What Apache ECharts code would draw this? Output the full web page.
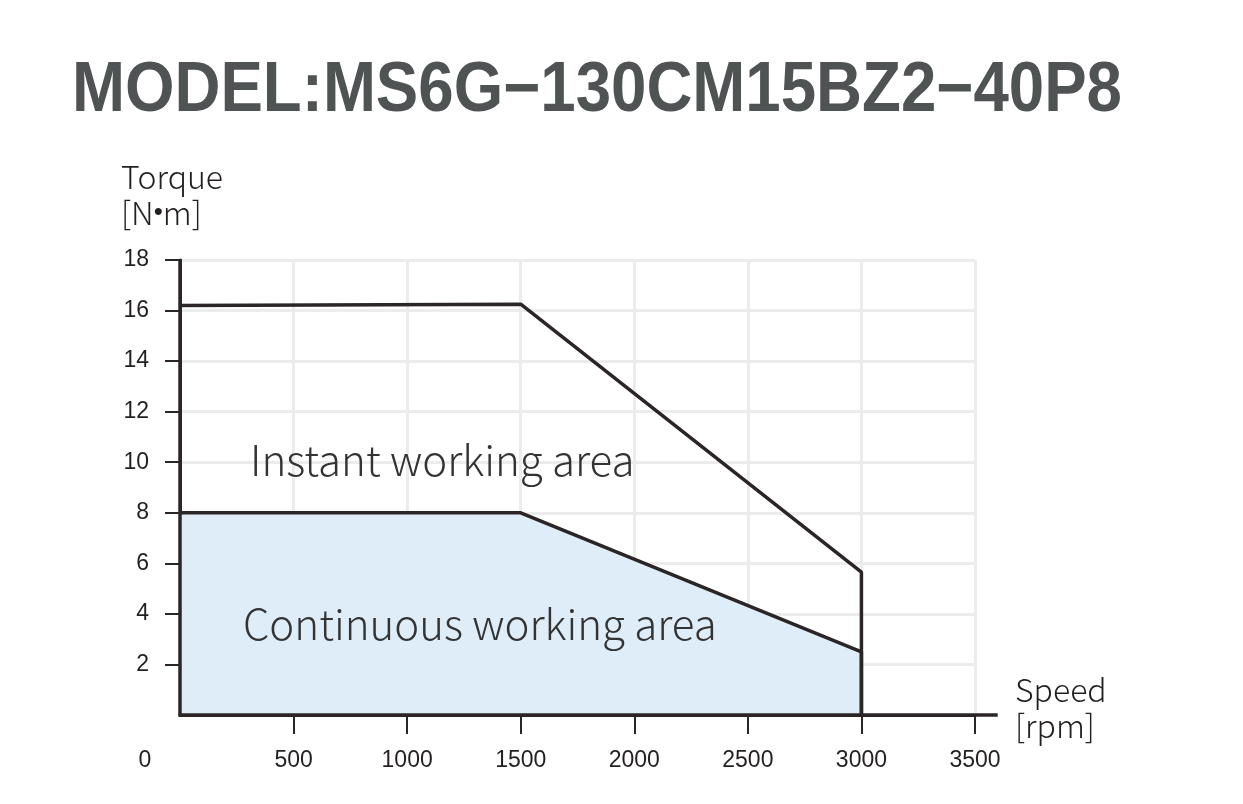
<!DOCTYPE html>
<html><head><meta charset="utf-8">
<script src="https://cdn.jsdelivr.net/npm/echarts@6/dist/echarts.min.js"></script>
<style>html,body{margin:0;padding:0;background:#fff}#c{width:1243px;height:804px}</style>
</head><body><div id="c"></div>
<script>
const titleText = 'MODEL:MS6G\u2212130CM15BZ2\u221240P8';
const xTicks = [0, 500, 1000, 1500, 2000, 2500, 3000, 3500];
const yTicks = [0, 2, 4, 6, 8, 10, 12, 14, 16, 18];
const instantSpeed = [0, 1500, 3000, 3000];
const instantTorque = [16.2, 16.25, 5.65, 0];
const contSpeed = [0, 1500, 3000, 3000];
const contTorque = [8, 8, 2.5, 0];
const axisEndSpeed = 3600;

const dark = '#2b2526';
const chart = echarts.init(document.getElementById('c'));
const zip = (a, b) => a.map((v, i) => [v, b[i]]);
const light = '"Noto Sans CJK SC","Noto Sans",sans-serif';
const numFont = '"Liberation Sans", Arial, sans-serif';

// fit title to its width in the reference
const titleFont = 'bold 70px "Liberation Sans", Arial';
const cv = document.createElement('canvas').getContext('2d');
cv.font = titleFont;
const titleScale = 1050 / cv.measureText(titleText).width;

chart.setOption({
  animation: false,
  grid: { left: 180, right: 268, top: 260, bottom: 89, containLabel: false },
  xAxis: {
    type: 'value', min: xTicks[0], max: xTicks[xTicks.length - 1], interval: 500,
    axisLine: { show: true, onZero: false, lineStyle: { color: dark, width: 3 } },
    axisTick: { show: true, length: 19, customValues: xTicks.slice(1), lineStyle: { color: dark, width: 2 } },
    axisLabel: {
      margin: 34, fontFamily: numFont, fontSize: 23, color: '#231f20',
      formatter: v => v === 0 ? '{z|0}' : String(v),
      rich: { z: { padding: [0, 70, 0, 0], fontSize: 23, fontFamily: numFont, color: '#231f20' } }
    },
    splitLine: { show: true, lineStyle: { color: '#ececec', width: 3 } }
  },
  yAxis: {
    type: 'value', min: yTicks[0], max: yTicks[yTicks.length - 1], interval: 2,
    axisLine: { show: true, lineStyle: { color: dark, width: 3 } },
    axisTick: { show: true, length: 15, customValues: yTicks.slice(1), lineStyle: { color: dark, width: 2 } },
    axisLabel: {
      margin: 31, fontFamily: numFont, fontSize: 23, color: '#231f20',
      formatter: v => v === 0 ? '' : String(v)
    },
    splitLine: { show: true, lineStyle: { color: '#ececec', width: 3 } }
  },
  series: [
    {
      type: 'line', data: zip(contSpeed, contTorque), symbol: 'none', z: 3,
      lineStyle: { color: dark, width: 3.5 },
      areaStyle: { color: '#dfedf9', opacity: 1 }
    },
    {
      type: 'line', data: zip(instantSpeed, instantTorque), symbol: 'none', z: 4,
      lineStyle: { color: dark, width: 3.5 }
    }
  ]
});

const o = chart.convertToPixel({ gridIndex: 0 }, [xTicks[0], yTicks[0]]);
const xe = chart.convertToPixel({ gridIndex: 0 }, [axisEndSpeed, yTicks[0]]);
const ye = chart.convertToPixel({ gridIndex: 0 }, [xTicks[0], yTicks[yTicks.length - 1]]);

chart.setOption({
  graphic: [
    { type: 'line', z: 10, shape: { x1: o[0] - 1.5, y1: o[1], x2: xe[0], y2: xe[1] }, style: { stroke: dark, lineWidth: 3.5 } },
    { type: 'line', z: 10, shape: { x1: o[0], y1: o[1], x2: ye[0], y2: ye[1] - 1 }, style: { stroke: dark, lineWidth: 3.5 } },
    { type: 'text', z: 10, left: 72, top: 57, scaleX: titleScale, style: { text: titleText, font: titleFont, fill: '#505354' } },
    { type: 'text', z: 10, left: 121, top: 161, style: { rich: {
        a: { fontFamily: light, fontWeight: 300, fontSize: 32, lineHeight: 36, fill: '#231f20' },
        b: { fontFamily: numFont, fontSize: 26, lineHeight: 36, fill: '#231f20' } },
        text: '{a|Torque}\n{a|[N}{b|•}{a|m]}' } },
    { type: 'text', z: 10, left: 1015, top: 672, style: { text: 'Speed\n[rpm]', fontFamily: light, fontWeight: 300, fontSize: 32, lineHeight: 36, fill: '#231f20' } },
    { type: 'text', z: 10, left: 250, top: 439, style: { text: 'Instant working area', fontFamily: light, fontWeight: 300, fontSize: 42, fill: '#333' } },
    { type: 'text', z: 10, left: 243, top: 603, style: { text: 'Continuous working area', fontFamily: light, fontWeight: 300, fontSize: 42, fill: '#333' } }
  ]
});
</script></body></html>
